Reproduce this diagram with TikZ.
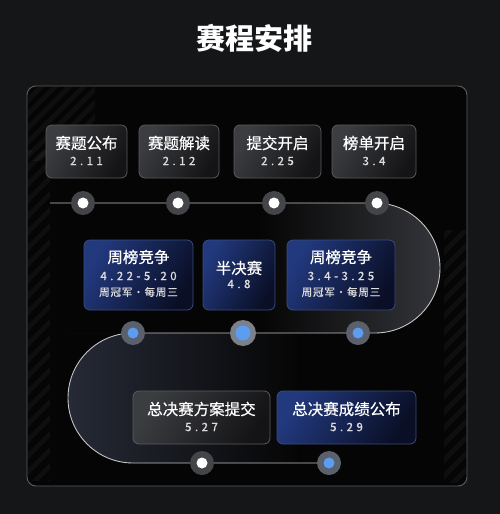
\documentclass[tikz,border=0pt]{standalone}
\usepackage{fontspec}
\setmainfont{Noto Sans CJK SC}
\newfontfamily\medfont[FakeBold=0.6]{Noto Sans CJK SC}
\newfontfamily\datefont[LetterSpace=30,FakeBold=1.0]{Noto Sans CJK SC}
\newfontfamily\notefont[LetterSpace=8,FakeBold=0.7]{Noto Sans CJK SC}
\usetikzlibrary{calc}
\definecolor{bgc}{HTML}{151618}
\definecolor{panelc}{HTML}{050505}
\definecolor{panelborder}{HTML}{5E5E60}
\definecolor{linec}{HTML}{C4C4C4}
\definecolor{grayA}{HTML}{3C3D41}
\definecolor{grayB}{HTML}{141416}
\definecolor{grayedge}{HTML}{5A5B5E}
\definecolor{blueA}{HTML}{22397E}
\definecolor{blueB}{HTML}{0A0F26}
\definecolor{blueedge}{HTML}{3A4B7E}
\definecolor{haloc}{HTML}{444548}
\definecolor{bhaloc}{HTML}{5A606C}
\definecolor{bluedot}{HTML}{5C9DF2}
\definecolor{datec}{HTML}{DCDCDE}
\definecolor{loopR}{HTML}{34353A}
\definecolor{loopL}{HTML}{262A36}
\tikzset{
  titletext/.style={text=white, font=\fontsize{29}{32}\selectfont\bfseries},
  panelbox/.style={draw=panelborder, fill=panelc, line width=0.9pt, rounded corners=9pt, inner sep=0},
  graybox/.style={draw=grayedge, line width=0.8pt, rounded corners=6pt, inner sep=0,
     shading=axis, left color=grayA, right color=grayB, shading angle=60},
  bluebox/.style={draw=blueedge, line width=0.8pt, rounded corners=6pt, inner sep=0,
     shading=axis, left color=blueA, right color=blueB, shading angle=60},
  boxtitle/.style={text=white, font=\medfont\fontsize{15.5}{17}\selectfont, inner sep=0},
  boxdate/.style={text=datec, font=\datefont\fontsize{11.5}{12}\selectfont, inner sep=0},
  boxnote/.style={text=datec, font=\notefont\fontsize{10.5}{12}\selectfont, inner sep=0},
  halo/.style={circle, fill=haloc, minimum size=24pt, inner sep=0},
  bhalo/.style={circle, fill=bhaloc, minimum size=24pt, inner sep=0},
  wdot/.style={circle, fill=white, minimum size=11pt, inner sep=0},
  bdot/.style={circle, fill=bluedot, minimum size=11pt, inner sep=0},
  timeline/.style={draw=linec, line width=0.9pt},
  stripe/.style={draw=white, draw opacity=0.04, line width=5pt},
}
\begin{document}
\begin{tikzpicture}[x=1pt,y=-1pt]
\useasboundingbox (0,0) rectangle (500,514);
\fill[bgc] (0,0) rectangle (500,514);
\node[titletext] (title) at (254,38) {赛程安排};
% panel
\node[panelbox, minimum width=440pt, minimum height=400pt] (panel) at (247,286) {};
% stripes
\begin{scope}
  \clip (28,87) rectangle (95,160);
  \foreach \i in {0,...,8} \draw[stripe] (20+\i*14,80) -- ++(-110,110);
\end{scope}
\begin{scope}
  \clip (28,150) rectangle (50,480);
  \foreach \i in {0,...,24} \draw[stripe] (70,110+\i*16) -- ++(-60,60);
\end{scope}
\begin{scope}
  \clip (444,230) rectangle (466,482);
  \foreach \i in {0,...,18} \draw[stripe] (500,180+\i*16) -- ++(-80,80);
\end{scope}
% loop fills
\fill[left color=panelc, right color=loopR] (260,203) -- (375,203)
   arc[start angle=-90, end angle=90, radius=65] -- (260,333) -- cycle;
\fill[left color=loopL, right color=panelc] (68,333) -- (300,333) -- (300,463) -- (133,463)
   arc[start angle=90, end angle=270, radius=65] -- cycle;
% timeline
\coordinate (start) at (50,203);
\coordinate (end) at (329,463);
\draw[timeline] (start) -- (375,203) arc[start angle=-90, end angle=90, radius=65]
   -- (133,333) arc[start angle=-90, end angle=-270, radius=65] -- (end);
% row 1 boxes
\node[graybox, minimum width=81pt, minimum height=53pt] (b1) at (86.5,151.5) {};
\node[graybox, minimum width=80pt, minimum height=53pt] (b2) at (179,151.5) {};
\node[graybox, minimum width=87pt, minimum height=53pt] (b3) at (277.5,151.5) {};
\node[graybox, minimum width=84pt, minimum height=53pt] (b4) at (374,151.5) {};
\node[boxtitle] (b1t) at (86.5,143) {赛题公布};
\node[boxdate] (b1d) at (86.5,161) {2.11};
\node[boxtitle] (b2t) at (179,143) {赛题解读};
\node[boxdate] (b2d) at (179,161) {2.12};
\node[boxtitle] (b3t) at (277.5,143) {提交开启};
\node[boxdate] (b3d) at (277.5,161) {2.25};
\node[boxtitle] (b4t) at (374,143) {榜单开启};
\node[boxdate] (b4d) at (374,161) {3.4};
% row 2 boxes
\node[bluebox, minimum width=109pt, minimum height=70pt] (c1) at (138.5,275) {};
\node[bluebox, minimum width=72pt, minimum height=70pt] (c2) at (239,275) {};
\node[bluebox, minimum width=108pt, minimum height=70pt] (c3) at (341,275) {};
\node[boxtitle] (c1t) at (138.5,257) {周榜竞争};
\node[boxdate] (c1d) at (138.5,276) {4.22-5.20};
\node[boxnote] (c1n) at (138.5,292) {周冠军·每周三};
\node[boxtitle] (c2t) at (239,268) {半决赛};
\node[boxdate] (c2d) at (239,284) {4.8};
\node[boxtitle] (c3t) at (341,257) {周榜竞争};
\node[boxdate] (c3d) at (341,276) {3.4-3.25};
\node[boxnote] (c3n) at (341,292) {周冠军·每周三};
% row 3 boxes
\node[graybox, minimum width=137pt, minimum height=53pt] (e1) at (201.5,417.5) {};
\node[bluebox, minimum width=139pt, minimum height=53pt] (e2) at (346.5,417.5) {};
\node[boxtitle] (e1t) at (201.5,409) {总决赛方案提交};
\node[boxdate] (e1d) at (201.5,427) {5.27};
\node[boxtitle] (e2t) at (346.5,409) {总决赛成绩公布};
\node[boxdate] (e2d) at (346.5,427) {5.29};
% dots row 1
\foreach \n/\x in {1/83,2/178,3/274,4/377} {
  \node[halo] (h\n) at (\x,203) {};
  \node[wdot] (d\n) at (\x,203) {};
}
% dots row 2
\node[bhalo] (h5) at (133,333) {};
\node[bdot] (d5) at (133,333) {};
\node[bhalo, minimum size=26pt, fill=bhaloc!80!white] (h6) at (243,333) {};
\node[bdot, minimum size=15pt] (d6) at (243,333) {};
\node[bhalo] (h7) at (358,333) {};
\node[bdot] (d7) at (358,333) {};
% dots row 3
\node[halo] (h8) at (202,463) {};
\node[wdot] (d8) at (202,463) {};
\node[bhalo] (h9) at (329,463) {};
\node[bdot] (d9) at (329,463) {};
\end{tikzpicture}
\end{document}
